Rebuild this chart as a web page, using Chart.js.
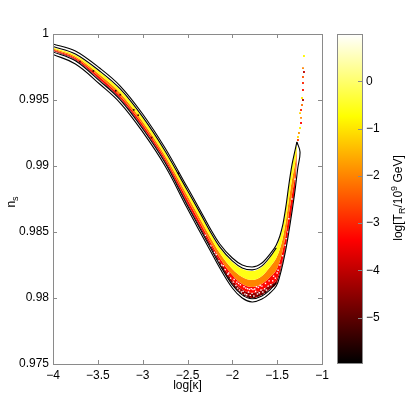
<!DOCTYPE html>
<html>
<head>
<meta charset="utf-8">
<script src="https://cdn.jsdelivr.net/npm/chart.js@4.4.1/dist/chart.umd.min.js"></script>
<style>
html, body { margin: 0; padding: 0; background: #fff; }
#wrap { position: relative; width: 409px; height: 396px; }
#wrap canvas { position: absolute; left: 0; top: 0; }
</style>
</head>
<body>
<div id="wrap">
  <canvas id="main" width="409" height="396"></canvas>
  <canvas id="cbar" width="409" height="396"></canvas>
</div>
<script>
// axis ticks
var xTicks = [-4, -3.5, -3, -2.5, -2, -1.5, -1];
var yTicks = [0.975, 0.98, 0.985, 0.99, 0.995, 1];
var cTicks = [-5, -4, -3, -2, -1, 0];
var tRange = [-5.96, 1.0];

// outer contour, upper side (log kappa, n_s)
var upperK = [-4.00, -3.75, -3.48, -3.25, -3.00, -2.75, -2.51, -2.36, -2.25, -2.14, -2.00, -1.89, -1.78, -1.67, -1.58, -1.51, -1.47, -1.435, -1.40, -1.37, -1.335, -1.30, -1.28];
var upperN = [0.99924, 0.99871, 0.99742, 0.99606, 0.99394, 0.99136, 0.98848, 0.98667, 0.98530, 0.98409, 0.98303, 0.98250, 0.98235, 0.98265, 0.98333, 0.98402, 0.98470, 0.98561, 0.98705, 0.98856, 0.99008, 0.99121, 0.99182];
// outer contour, lower side (runs round the tip)
var lowerK = [-4.00, -3.75, -3.48, -3.25, -3.00, -2.75, -2.51, -2.36, -2.25, -2.14, -2.00, -1.89, -1.78, -1.67, -1.58, -1.51, -1.47, -1.435, -1.40, -1.37, -1.335, -1.30, -1.27, -1.245, -1.28];
var lowerN = [0.99845, 0.99773, 0.99621, 0.99477, 0.99258, 0.99000, 0.98689, 0.98500, 0.98364, 0.98227, 0.98076, 0.98000, 0.97970, 0.97992, 0.98038, 0.98091, 0.98167, 0.98265, 0.98379, 0.98500, 0.98652, 0.98818, 0.98985, 0.99106, 0.99182];
// inner contour
var innerK = [-4.00, -3.75, -3.48, -3.25, -3.00, -2.75, -2.51, -2.36, -2.25, -2.14, -2.00, -1.89, -1.78, -1.67, -1.58, -1.51];
var innerUpN = [0.99905, 0.99849, 0.99720, 0.99584, 0.99372, 0.99114, 0.98826, 0.98645, 0.98508, 0.98387, 0.98281, 0.98228, 0.98213, 0.98243, 0.98311, 0.98380];
var innerLoN = [0.99864, 0.99797, 0.99645, 0.99501, 0.99282, 0.99024, 0.98713, 0.98524, 0.98388, 0.98251, 0.98100, 0.98024, 0.97994, 0.98016, 0.98062, 0.98115];

// edges of the coloured point cloud: top, yellow/orange, orange/red, red/dark red, bottom
var bandK = [-4.00, -3.75, -3.48, -3.25, -3.00, -2.75, -2.51, -2.36, -2.25, -2.14, -2.00, -1.89, -1.78, -1.67, -1.58, -1.51, -1.47, -1.435, -1.40, -1.37, -1.335, -1.30, -1.28];
var bandTop = [0.99898, 0.99841, 0.99712, 0.99576, 0.99364, 0.99106, 0.98818, 0.98636, 0.98500, 0.98379, 0.98273, 0.98220, 0.98205, 0.98235, 0.98303, 0.98386, 0.98455, 0.98545, 0.98689, 0.98841, 0.98992, 0.99106, 0.99167];
var bandYellow = [0.99890, 0.99830, 0.99693, 0.99553, 0.99337, 0.99080, 0.98788, 0.98602, 0.98466, 0.98341, 0.98220, 0.98159, 0.98136, 0.98167, 0.98235, 0.98303, 0.98371, 0.98462, 0.98598, 0.98742, 0.98894, 0.99023, 0.99129];
var bandOrange = [0.99883, 0.99818, 0.99674, 0.99530, 0.99314, 0.99057, 0.98758, 0.98572, 0.98432, 0.98303, 0.98174, 0.98106, 0.98083, 0.98106, 0.98159, 0.98212, 0.98280, 0.98371, 0.98500, 0.98636, 0.98780, 0.98932, 0.99091];
var bandRed = [0.99876, 0.99808, 0.99658, 0.99515, 0.99296, 0.99040, 0.98732, 0.98545, 0.98412, 0.98280, 0.98135, 0.98065, 0.98038, 0.98060, 0.98100, 0.98135, 0.98205, 0.98300, 0.98412, 0.98530, 0.98680, 0.98845, 0.99055];
var bandBottom = [0.99871, 0.99803, 0.99652, 0.99508, 0.99288, 0.99030, 0.98720, 0.98530, 0.98394, 0.98258, 0.98106, 0.98030, 0.98000, 0.98023, 0.98068, 0.98106, 0.98182, 0.98280, 0.98394, 0.98515, 0.98667, 0.98833, 0.99045];

// sparse points above the tip
var tipK = [-1.201, -1.212, -1.201, -1.212, -1.212, -1.212, -1.223, -1.212, -1.223, -1.234, -1.245, -1.234, -1.234, -1.245, -1.257, -1.268, -1.268];
var tipN = [0.99833, 0.99742, 0.99712, 0.99674, 0.99629, 0.99576, 0.99515, 0.99500, 0.99462, 0.99424, 0.99401, 0.99364, 0.99326, 0.99288, 0.99250, 0.99220, 0.99197];
var tipT = [-0.8, -2.0, -4.0, -2.5, -3.0, -3.2, -1.0, -4.2, -2.2, -3.0, -1.2, -2.0, -3.3, -0.9, -1.8, -1.1, -2.8];

// white gaps in the cloud
var gapK = [-2.30, -2.24, -2.20, -2.15, -2.12, -2.08, -2.05, -2.02, -1.99, -1.96, -1.94, -1.92, -1.90, -1.88, -1.86, -1.84, -1.82, -1.80, -1.78, -1.76, -1.74, -1.72, -1.70, -1.68, -1.66, -1.64, -1.62, -1.60, -1.57, -1.55, -1.52, -1.50, -1.47, -1.44, -1.41, -1.38, -1.93, -1.85, -1.79, -1.73, -1.69, -1.40, -1.37, -1.335, -1.30,
            -2.18, -2.10, -2.04, -1.98, -1.95, -1.91, -1.87, -1.83, -1.81, -1.77, -1.75, -1.71, -1.67, -1.63, -1.59, -1.54, -1.49];
var gapN = [0.98475, 0.98395, 0.98345, 0.98280, 0.98250, 0.98215, 0.98180, 0.98150, 0.98120, 0.98095, 0.98075, 0.98060, 0.98045, 0.98050, 0.98030, 0.98025, 0.98045, 0.98020, 0.98035, 0.98015, 0.98050, 0.98030, 0.98040, 0.98060, 0.98045, 0.98070, 0.98060, 0.98090, 0.98100, 0.98130, 0.98150, 0.98190, 0.98250, 0.98320, 0.98400, 0.98500, 0.98110, 0.98075, 0.98070, 0.98085, 0.98095, 0.98450, 0.98600, 0.98750, 0.98900,
            0.98330, 0.98245, 0.98190, 0.98140, 0.98120, 0.98100, 0.98085, 0.98070, 0.98065, 0.98065, 0.98068, 0.98080, 0.98090, 0.98110, 0.98130, 0.98165, 0.98210];

// dark (low T_R) points
var darkK = [-2.10, -2.03, -1.97, -1.91, -1.87, -1.83, -1.81, -1.77, -1.75, -1.71, -1.67, -1.63, -1.59, -1.54, -3.30, -3.25, -3.10, -3.05, -2.90, -2.60, -3.70, -3.55];
var darkN = [0.98225, 0.98150, 0.98085, 0.98040, 0.98020, 0.98010, 0.98005, 0.98010, 0.98005, 0.98020, 0.98030, 0.98045, 0.98075, 0.98100, 0.99570, 0.99540, 0.99425, 0.99385, 0.99215, 0.98945, 0.99790, 0.99720];
var darkT = [-5.2, -5.5, -4.8, -5.3, -5.6, -5.0, -5.4, -5.7, -4.9, -5.3, -5.1, -5.5, -4.8, -5.2, -5.4, -5.0, -5.6, -5.2, -4.9, -5.3, -5.1, -5.5];

var FONT = "'Liberation Sans', Arial, Helvetica, sans-serif";
Chart.defaults.font.family = FONT;
Chart.defaults.font.size = 12;
Chart.defaults.color = '#000';

function hot(t) {
    var f = (t - tRange[0]) / (tRange[1] - tRange[0]);
    f = Math.max(0, Math.min(1, f));
    var r = Math.min(1, f / 0.375);
    var g = Math.max(0, Math.min(1, (f - 0.375) / 0.375));
    var b = Math.max(0, (f - 0.75) / 0.25);
    return 'rgb(' + Math.round(r * 255) + ',' + Math.round(g * 255) + ',' + Math.round(b * 255) + ')';
}

function pts(xs, ys) {
    return xs.map(function (x, i) { return { x: x, y: ys[i] }; });
}

function minus(v) {
    return (v < 0 ? '\u2212' : '') + Math.abs(v);
}

function contour(xs, ys, mono) {
    var ds = { data: pts(xs, ys), borderColor: '#000', borderWidth: 1.1, pointRadius: 0, fill: false, order: 0 };
    if (mono) ds.cubicInterpolationMode = 'monotone';
    else ds.tension = 0.4;
    return ds;
}

function edge(ys, color) {
    return {
        data: pts(bandK, ys), borderWidth: 0, borderColor: 'rgba(0,0,0,0)', pointRadius: 0,
        cubicInterpolationMode: 'monotone',
        fill: color ? '-1' : false, backgroundColor: color || 'rgba(0,0,0,0)', order: 5
    };
}

function dots(xs, ys, colors, r) {
    return {
        data: pts(xs, ys), showLine: false, pointStyle: 'rect', pointRadius: r, pointBorderWidth: 0,
        pointBackgroundColor: colors, order: 2
    };
}

// MATLAB style box with inward ticks
var boxTicks = {
    id: 'boxTicks',
    afterDraw: function (chart, args, opts) {
        var ctx = chart.ctx, a = chart.chartArea, len = 4;
        ctx.save();
        ctx.strokeStyle = '#8a8a8a';
        ctx.lineWidth = 1;
        ctx.beginPath();
        if (opts.x) {
            chart.scales.x.ticks.forEach(function (t) {
                var px = Math.round(chart.scales.x.getPixelForValue(t.value)) + 0.5;
                ctx.moveTo(px, a.bottom); ctx.lineTo(px, a.bottom - len);
                ctx.moveTo(px, a.top); ctx.lineTo(px, a.top + len);
            });
        }
        chart.scales.y.ticks.forEach(function (t) {
            var py = Math.round(chart.scales.y.getPixelForValue(t.value)) + 0.5;
            if (opts.left) { ctx.moveTo(a.left, py); ctx.lineTo(a.left + len, py); }
            ctx.moveTo(a.right, py); ctx.lineTo(a.right - len, py);
        });
        ctx.stroke();
        ctx.strokeRect(Math.round(a.left) + 0.5, Math.round(a.top) + 0.5, Math.round(a.right - a.left), Math.round(a.bottom - a.top));
        ctx.restore();
    }
};

// rotated labels with sub/superscripts
var richTitles = {
    id: 'richTitles',
    afterDraw: function (chart, args, opts) {
        var ctx = chart.ctx;
        opts.items.forEach(function (it) {
            ctx.save();
            ctx.translate(it.x, it.y);
            ctx.rotate(-Math.PI / 2);
            ctx.fillStyle = '#000';
            ctx.textBaseline = 'alphabetic';
            var w = 0;
            it.parts.forEach(function (p) {
                ctx.font = p.size + 'px ' + FONT;
                p.w = ctx.measureText(p.text).width;
                w += p.w;
            });
            var x = -w / 2;
            it.parts.forEach(function (p) {
                ctx.font = p.size + 'px ' + FONT;
                ctx.fillText(p.text, x, 4 + (p.dy || 0));
                x += p.w;
            });
            ctx.restore();
        });
    }
};

new Chart(document.getElementById('main'), {
    type: 'line',
    data: {
        datasets: [
            edge(bandTop, null),
            edge(bandYellow, hot(-0.6)),
            edge(bandOrange, hot(-2.0)),
            edge(bandRed, hot(-3.3)),
            edge(bandBottom, hot(-4.4)),
            dots(gapK, gapN, '#ffffff', 1.0),
            dots(darkK, darkN, darkT.map(hot), 1.2),
            dots(tipK, tipN, tipT.map(hot), 1.3),
            contour(upperK, upperN, true),
            contour(innerK, innerUpN, true),
            contour(innerK, innerLoN, true),
            contour(lowerK, lowerN, false)
        ]
    },
    options: {
        responsive: false,
        animation: false,
        layout: { padding: { left: 0, right: 87, top: 34, bottom: 0 } },
        plugins: {
            legend: { display: false },
            tooltip: { enabled: false },
            boxTicks: { x: true, left: true },
            richTitles: { items: [{ x: 11, y: 202, parts: [{ text: 'n', size: 12 }, { text: 's', size: 9, dy: 3 }] }] }
        },
        scales: {
            x: {
                type: 'linear', min: -4, max: -1,
                grid: { display: false, drawTicks: false },
                border: { display: false },
                afterBuildTicks: function (s) { s.ticks = xTicks.map(function (v) { return { value: v }; }); },
                afterFit: function (s) { s.height = 32; },
                ticks: { padding: 4, maxRotation: 0, autoSkip: false, callback: minus },
                title: { display: true, text: 'log[κ]', padding: { top: 0, bottom: 3 } }
            },
            y: {
                type: 'linear', min: 0.975, max: 1,
                grid: { display: false, drawTicks: false },
                border: { display: false },
                afterBuildTicks: function (s) { s.ticks = yTicks.map(function (v) { return { value: v }; }); },
                afterFit: function (s) { s.width = 53; },
                ticks: { padding: 4, callback: function (v) { return String(parseFloat(v.toFixed(3))); } }
            }
        }
    },
    plugins: [boxTicks, richTitles]
});

// colour bar
new Chart(document.getElementById('cbar'), {
    type: 'bar',
    data: {
        labels: [''],
        datasets: [{
            data: [tRange],
            borderWidth: 0,
            barPercentage: 1,
            categoryPercentage: 1,
            backgroundColor: function (c) {
                var a = c.chart.chartArea;
                if (!a) return '#000';
                var g = c.chart.ctx.createLinearGradient(0, a.bottom, 0, a.top);
                g.addColorStop(0, '#000000');
                g.addColorStop(0.375, '#ff0000');
                g.addColorStop(0.75, '#ffff00');
                g.addColorStop(1, '#ffffff');
                return g;
            }
        }]
    },
    options: {
        responsive: false,
        animation: false,
        layout: { padding: { left: 337, right: 0, top: 34, bottom: 33 } },
        plugins: {
            legend: { display: false },
            tooltip: { enabled: false },
            boxTicks: { x: false, left: false },
            richTitles: {
                items: [{
                    x: 398, y: 198, parts: [
                        { text: 'log[T', size: 12 }, { text: 'R', size: 9, dy: 3 }, { text: '/10', size: 12 },
                        { text: '9', size: 9, dy: -5 }, { text: ' GeV]', size: 12 }
                    ]
                }]
            }
        },
        scales: {
            x: { display: false },
            y: {
                position: 'right', min: tRange[0], max: tRange[1],
                grid: { display: false, drawTicks: false },
                border: { display: false },
                afterBuildTicks: function (s) { s.ticks = cTicks.map(function (v) { return { value: v }; }); },
                afterFit: function (s) { s.width = 47; },
                ticks: { padding: 4, callback: minus }
            }
        }
    },
    plugins: [boxTicks, richTitles]
});
</script>
</body>
</html>
